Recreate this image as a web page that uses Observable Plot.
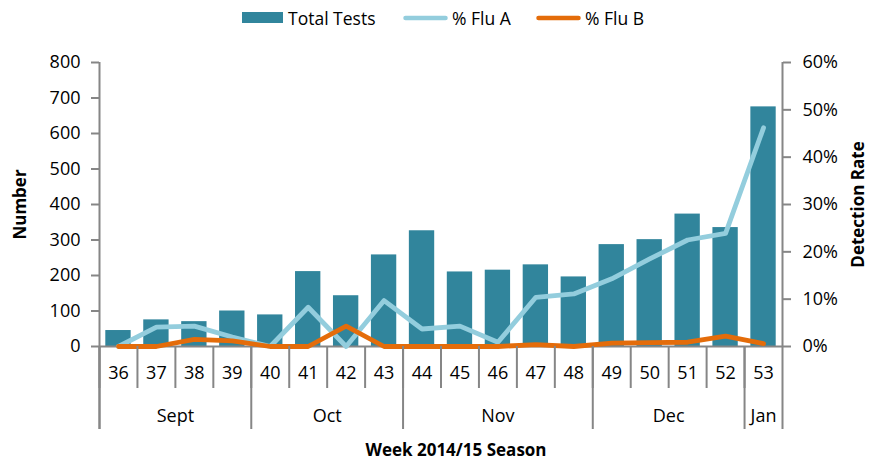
<!DOCTYPE html>
<html>
<head>
<meta charset="utf-8">
<script src="https://cdn.jsdelivr.net/npm/d3@7"></script>
<script src="https://cdn.jsdelivr.net/npm/@observablehq/plot@0.6"></script>
<style>
  html, body { margin: 0; padding: 0; background: #fff; }
  body { width: 881px; height: 462px; overflow: hidden; font-family: "Open Sans", sans-serif; }
  #legend { position: relative; height: 36px; width: 881px; font-size: 17.5px; color: #000; }
  #legend .item { position: absolute; top: 6px; display: flex; align-items: center; height: 24px; }
  #legend svg { display: block; margin-right: 3px; }
</style>
</head>
<body>
<div id="legend"></div>
<div id="chart"></div>
<script>
// ---- data ----
const weeks = ["36","37","38","39","40","41","42","43","44","45","46","47","48","49","50","51","52","53"];
const totalTests = [45, 75, 70, 100, 89, 211, 143, 258, 326, 210, 215, 230, 196, 287, 301, 373, 335, 675];
const fluA = [0, 4.1, 4.3, 2.0, 0, 8.3, 0, 9.7, 3.7, 4.3, 0.9, 10.4, 11.1, 14.3, 18.5, 22.5, 23.9, 46.2];
const fluB = [0, 0, 1.5, 1.2, 0, 0, 4.3, 0, 0, 0, 0, 0.4, 0, 0.7, 0.8, 0.9, 2.2, 0.6];
const months = [
  {name: "Sept", weeks: ["36","37","38","39"]},
  {name: "Oct", weeks: ["40","41","42","43"]},
  {name: "Nov", weeks: ["44","45","46","47","48"]},
  {name: "Dec", weeks: ["49","50","51","52"]},
  {name: "Jan", weeks: ["53"]}
];
const leftTicks = [0, 100, 200, 300, 400, 500, 600, 700, 800];
const rightTicks = [0, 10, 20, 30, 40, 50, 60];

const colBar = "#31859C", colA = "#93CDDD", colB = "#E46C0A", gray = "#868686";
const series = [
  {label: "Total Tests", color: colBar, type: "bar", left: 242},
  {label: "% Flu A", color: colA, type: "line", left: 403},
  {label: "% Flu B", color: colB, type: "line", left: 536}
];

// ---- legend ----
const legend = d3.select("#legend");
series.forEach(s => {
  const it = legend.append("div").attr("class", "item").style("left", s.left + "px");
  const sw = it.append("svg").attr("width", s.type === "bar" ? 43 : 46).attr("height", 14);
  if (s.type === "bar") sw.append("rect").attr("x", 0).attr("y", 1).attr("width", 41).attr("height", 11).attr("fill", s.color);
  else sw.append("line").attr("x1", 2.5).attr("x2", 42.5).attr("y1", 7).attr("y2", 7)
    .attr("stroke", s.color).attr("stroke-width", 4.5).attr("stroke-linecap", "round");
  it.append("span").text(s.label);
});

// ---- layout ----
const W = 881, H = 426, mt = 26, mb = 116, ml = 99, mr = 99;
const innerH = H - mt - mb;
const bw = (W - ml - mr) / weeks.length;
const yMax = 800, pctMax = 60;
const upx = yMax / innerH;            // data units per pixel
const below = px => -px * upx;        // a y value px pixels below the baseline
const toY = p => p * yMax / pctMax;   // percent -> left-axis units

const rows = weeks.map((w, i) => ({week: w, total: totalTests[i], a: toY(fluA[i]), b: toY(fluB[i])}));
const monthStarts = months.map(m => m.weeks[0]);

const marks = [
  Plot.barY(rows, {x: "week", y: "total", fill: colBar, insetLeft: 6.3, insetRight: 6.3}),
  Plot.ruleY([0], {stroke: gray, strokeWidth: 2}),
  Plot.line(rows, {x: "week", y: "a", stroke: colA, strokeWidth: 4.8, strokeLinecap: "round", strokeLinejoin: "round"}),
  Plot.line(rows, {x: "week", y: "b", stroke: colB, strokeWidth: 4.8, strokeLinecap: "round", strokeLinejoin: "round"}),
  // short separators between weeks
  Plot.ruleX(weeks, {x: d => d, dx: -bw / 2, y1: 0, y2: below(42), stroke: gray, strokeWidth: 2}),
  // long separators at month boundaries
  Plot.ruleX(monthStarts, {x: d => d, dx: -bw / 2, y1: 0, y2: below(83), stroke: gray, strokeWidth: 2}),
  // left axis line
  Plot.ruleX([weeks[0]], {x: d => d, dx: -bw / 2, y1: yMax, y2: below(83), stroke: gray, strokeWidth: 2}),
  // right axis line
  Plot.ruleX([weeks[weeks.length - 1]], {x: d => d, dx: bw / 2, y1: yMax, y2: below(83), stroke: gray, strokeWidth: 2}),
  Plot.axisY({anchor: "left", ticks: leftTicks, tickSize: 8, tickPadding: 11, stroke: gray, strokeWidth: 2, fill: "#000", fontSize: 18, label: null, tickFormat: d => String(d)}),
  Plot.axisY({anchor: "right", ticks: rightTicks.map(toY), tickSize: 8, tickPadding: 12, stroke: gray, strokeWidth: 2, fill: "#000", fontSize: 18, label: null, tickFormat: d => Math.round(d * pctMax / yMax) + "%"}),
  Plot.text(weeks, {x: d => d, y: below(27), text: d => d, fontSize: 18, fill: "#000", lineAnchor: "middle"}),
  ...months.map(m => Plot.text([m.name], {x: () => m.weeks[0], dx: (m.weeks.length - 1) / 2 * bw, y: below(70), text: d => d, fontSize: 18, fill: "#000", lineAnchor: "middle"})),
  Plot.text(["Number"], {frameAnchor: "left", dx: -79, rotate: -90, text: d => d, fontSize: 17, fontWeight: "bold", fill: "#000", textAnchor: "middle", lineAnchor: "middle"}),
  Plot.text(["Detection Rate"], {frameAnchor: "right", dx: 76, rotate: -90, text: d => d, fontSize: 17, fontWeight: "bold", fill: "#000", textAnchor: "middle", lineAnchor: "middle"}),
  Plot.text(["Week 2014/15 Season"], {frameAnchor: "bottom", dx: 15, dy: 104, text: d => d, fontSize: 17, fontWeight: "bold", fill: "#000", textAnchor: "middle", lineAnchor: "middle"})
];

const chart = Plot.plot({
  width: W, height: H,
  marginTop: mt, marginBottom: mb, marginLeft: ml, marginRight: mr,
  style: {fontFamily: "Open Sans, sans-serif", fontSize: "18px", background: "#fff", color: "#000", overflow: "visible"},
  x: {type: "band", domain: weeks, padding: 0, round: false, axis: null},
  y: {domain: [0, yMax], axis: null},
  marks
});
document.getElementById("chart").append(chart);
</script>
</body>
</html>
